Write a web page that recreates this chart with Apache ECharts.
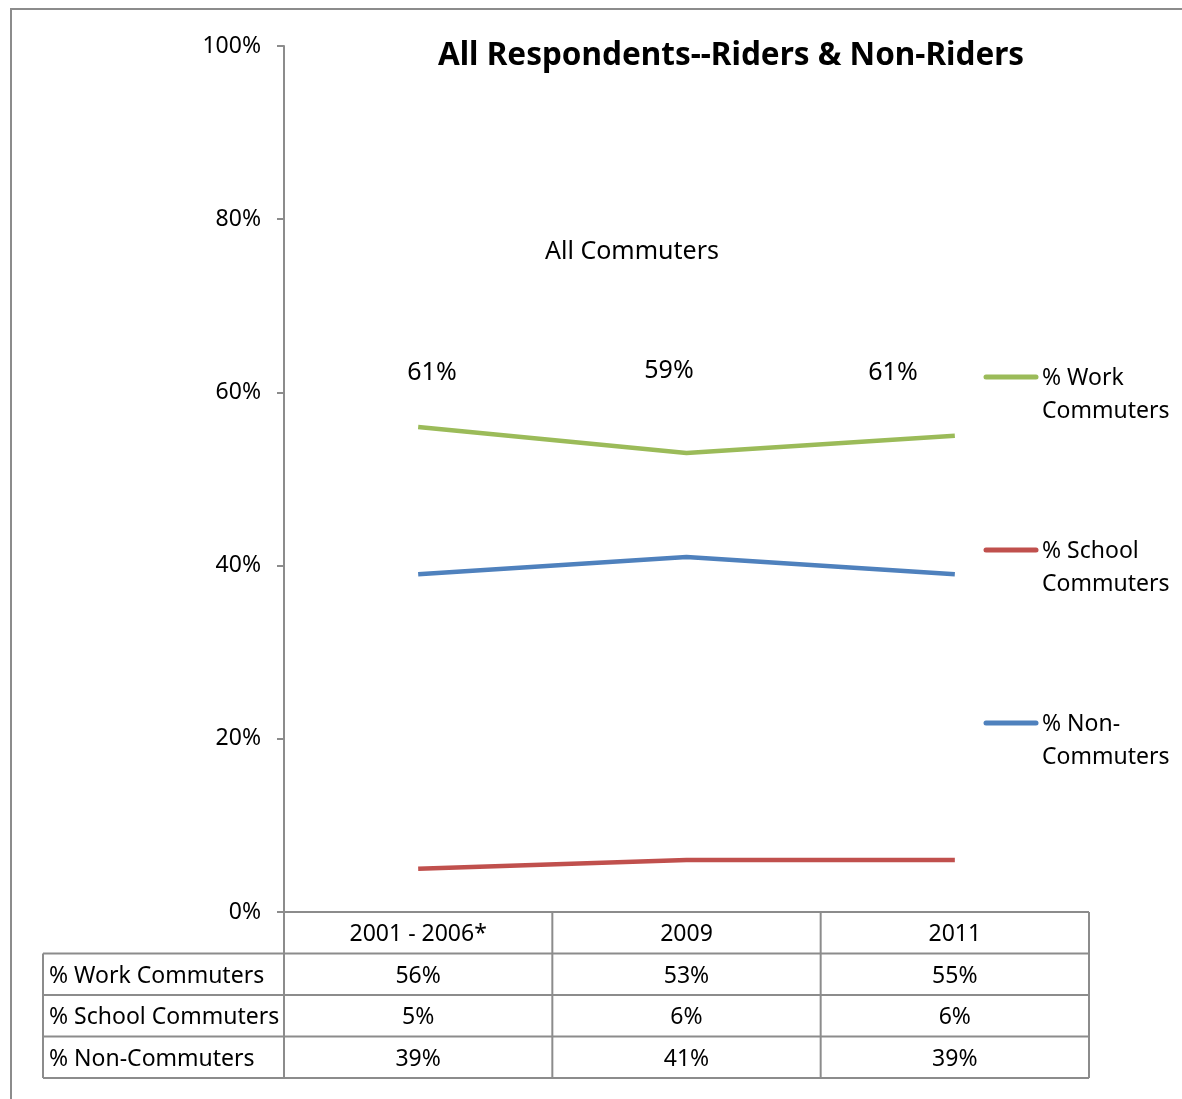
<!DOCTYPE html>
<html>
<head>
<meta charset="utf-8">
<style>
  html, body { margin: 0; padding: 0; background: #fff; }
  #chart { width: 1182px; height: 1099px; }
</style>
<script src="https://cdn.jsdelivr.net/npm/echarts@6/dist/echarts.min.js"></script>
</head>
<body>
<div id="chart"></div>
<script>
// Survey periods (x categories)
const periods = ['2001 - 2006*', '2009', '2011'];

// Share of all respondents, percent
const workCommuters = [56, 53, 55];
const schoolCommuters = [5, 6, 6];
const nonCommuters = [39, 41, 39];

// Totals shown above the chart (work + school commuters)
const allCommuterTotals = [61, 59, 61];

const seriesNames = ['% Work Commuters', '% School Commuters', '% Non-Commuters'];
const legendLabels = ['% Work\nCommuters', '% School\nCommuters', '% Non-\nCommuters'];
const yTicks = [0, 20, 40, 60, 80, 100];

const FONT = '"Noto Sans", "Open Sans", sans-serif';
const colors = ['#9BBB59', '#C0504D', '#4F81BD'];
const values = [workCommuters, schoolCommuters, nonCommuters];

const chart = echarts.init(document.getElementById('chart'));

// Plot area bounds
const G = { left: 284, right: 1089, top: 46, bottom: 912 };
const rowH = 41.5;
const tableLeft = 43;

const graphics = [];

// Outer frame
graphics.push({
  type: 'rect', z: 0, silent: true,
  shape: { x: 11, y: 9, width: 1180, height: 1100 },
  style: { fill: 'none', stroke: '#8c8c8c', lineWidth: 2 }
});

// Data table under the plot
const colW = (G.right - G.left) / periods.length;
const lineStyle = { stroke: '#8c8c8c', lineWidth: 2 };
graphics.push({ type: 'line', silent: true, shape: { x1: G.left, y1: G.bottom, x2: G.right, y2: G.bottom }, style: lineStyle });
graphics.push({ type: 'line', silent: true, shape: { x1: tableLeft, y1: G.bottom + rowH, x2: G.right, y2: G.bottom + rowH }, style: lineStyle });
for (let r = 1; r <= values.length; r++) {
  const y = G.bottom + rowH * (r + 1);
  graphics.push({ type: 'line', silent: true, shape: { x1: tableLeft, y1: y, x2: G.right, y2: y }, style: lineStyle });
}
graphics.push({ type: 'line', silent: true, shape: { x1: tableLeft, y1: G.bottom + rowH, x2: tableLeft, y2: G.bottom + rowH * 4 }, style: lineStyle });
for (let c = 0; c <= periods.length; c++) {
  const x = G.left + colW * c;
  graphics.push({ type: 'line', silent: true, shape: { x1: x, y1: G.bottom, x2: x, y2: G.bottom + rowH * 4 }, style: lineStyle });
}
const cellFont = '23px ' + FONT;
periods.forEach((p, c) => {
  graphics.push({
    type: 'text', silent: true,
    x: G.left + colW * (c + 0.5), y: G.bottom + rowH / 2 + 2,
    style: { text: p, font: cellFont, fill: '#000', align: 'center', verticalAlign: 'middle' }
  });
});
values.forEach((vals, r) => {
  const yc = G.bottom + rowH * (r + 1.5) + 2;
  graphics.push({
    type: 'text', silent: true,
    x: tableLeft + 6, y: yc,
    style: { text: seriesNames[r], font: cellFont, fill: '#000', align: 'left', verticalAlign: 'middle' }
  });
  vals.forEach((v, c) => {
    graphics.push({
      type: 'text', silent: true,
      x: G.left + colW * (c + 0.5), y: yc,
      style: { text: v + '%', font: cellFont, fill: '#000', align: 'center', verticalAlign: 'middle' }
    });
  });
});

// Legend on the right
const legendY = [377, 550, 723];
legendLabels.forEach((lbl, i) => {
  graphics.push({
    type: 'line', silent: true,
    shape: { x1: 986, y1: legendY[i], x2: 1036, y2: legendY[i] },
    style: { stroke: colors[i], lineWidth: 5, lineCap: 'round' }
  });
  graphics.push({
    type: 'text', silent: true,
    x: 1042, y: legendY[i] - 15,
    style: { text: lbl, font: '23px ' + FONT, fill: '#000', align: 'left', verticalAlign: 'top', lineHeight: 33 }
  });
});

// Annotations
graphics.push({
  type: 'text', silent: true, x: 632, y: 252,
  style: { text: 'All Commuters', font: '25px ' + FONT, fill: '#000', align: 'center', verticalAlign: 'middle' }
});
const totalX = [432, 669, 893];
const totalY = [373, 371, 373];
allCommuterTotals.forEach((t, i) => {
  graphics.push({
    type: 'text', silent: true, x: totalX[i], y: totalY[i],
    style: { text: t + '%', font: '25px ' + FONT, fill: '#000', align: 'center', verticalAlign: 'middle' }
  });
});

chart.setOption({
  backgroundColor: '#fff',
  animation: false,
  title: {
    text: 'All Respondents--Riders & Non-Riders',
    left: 726, top: 35, textAlign: 'center',
    textStyle: { fontFamily: FONT, fontSize: 31.5, fontWeight: 'bold', color: '#000' }
  },
  grid: { left: G.left, right: 1182 - G.right, top: G.top, bottom: 1099 - G.bottom, containLabel: false },
  xAxis: {
    type: 'category',
    data: periods,
    boundaryGap: true,
    axisLine: { show: false },
    axisTick: { show: false },
    axisLabel: { show: false },
    splitLine: { show: false }
  },
  yAxis: {
    type: 'value',
    min: yTicks[0], max: yTicks[yTicks.length - 1], interval: 20,
    axisLine: { show: true, lineStyle: { color: '#8c8c8c', width: 2 } },
    axisTick: { show: true, inside: false, length: 7, lineStyle: { color: '#8c8c8c', width: 2 } },
    axisLabel: { formatter: '{value}%', fontFamily: FONT, fontSize: 23, color: '#000', margin: 23, padding: [3, 0, 0, 0] },
    splitLine: { show: false }
  },
  series: values.map((vals, i) => ({
    name: seriesNames[i],
    type: 'line',
    data: vals,
    symbol: 'none',
    lineStyle: { color: colors[i], width: 4.5 },
    itemStyle: { color: colors[i] }
  })),
  graphic: graphics
});
</script>
</body>
</html>
